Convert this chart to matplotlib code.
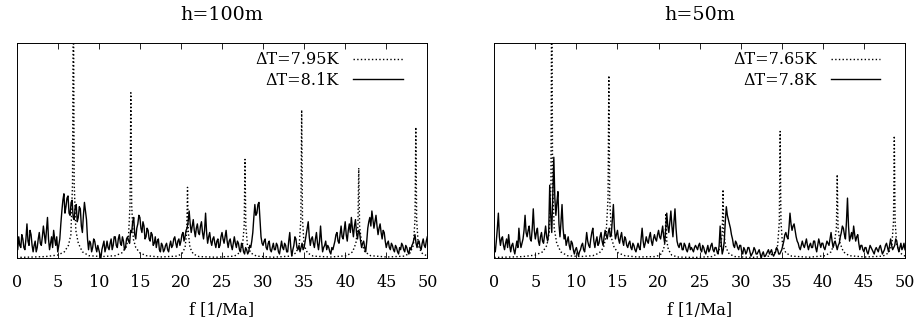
import numpy as np
import matplotlib
matplotlib.use("Agg")
import matplotlib.pyplot as plt

# noisy spectra, one row per 1/Ma, step 0.125 1/Ma
# h=100m, dT=8.1K (solid)
amp_100_solid = [
    0.07, 0.04, 0.10, 0.06, 0.05, 0.11, 0.09, 0.05,
    0.04, 0.09, 0.16, 0.08, 0.06, 0.13, 0.11, 0.06,
    0.03, 0.06, 0.08, 0.03, 0.05, 0.09, 0.12, 0.07,
    0.06, 0.10, 0.15, 0.11, 0.07, 0.13, 0.19, 0.09,
    0.04, 0.07, 0.10, 0.05, 0.13, 0.09, 0.06, 0.10,
    0.03, 0.06, 0.09, 0.16, 0.22, 0.27, 0.30, 0.21,
    0.24, 0.28, 0.29, 0.21, 0.20, 0.26, 0.27, 0.19,
    0.18, 0.24, 0.25, 0.17, 0.19, 0.24, 0.23, 0.15,
    0.12, 0.20, 0.26, 0.22, 0.18, 0.09, 0.04, 0.08,
    0.07, 0.03, 0.05, 0.09, 0.08, 0.05, 0.03, 0.06,
    0.04, 0.02, 0.00, 0.04, 0.06, 0.08, 0.03, 0.05,
    0.08, 0.05, 0.04, 0.07, 0.09, 0.04, 0.06, 0.10,
    0.10, 0.06, 0.05, 0.09, 0.11, 0.07, 0.06, 0.10,
    0.08, 0.04, 0.05, 0.09, 0.10, 0.08, 0.07, 0.13,
    0.12, 0.17, 0.19, 0.11, 0.09, 0.14, 0.16, 0.20,
    0.19, 0.14, 0.12, 0.17, 0.15, 0.09, 0.10, 0.14,
    0.13, 0.09, 0.08, 0.12, 0.11, 0.06, 0.07, 0.10,
    0.05, 0.08, 0.09, 0.04, 0.03, 0.07, 0.06, 0.03,
    0.04, 0.06, 0.07, 0.04, 0.03, 0.06, 0.08, 0.05,
    0.06, 0.09, 0.10, 0.07, 0.05, 0.08, 0.09, 0.06,
    0.08, 0.11, 0.12, 0.08, 0.10, 0.13, 0.14, 0.17,
    0.22, 0.16, 0.12, 0.15, 0.18, 0.13, 0.10, 0.14,
    0.16, 0.12, 0.11, 0.15, 0.17, 0.12, 0.09, 0.13,
    0.21, 0.12, 0.07, 0.10, 0.12, 0.08, 0.06, 0.09,
    0.10, 0.07, 0.05, 0.08, 0.09, 0.05, 0.06, 0.10,
    0.12, 0.09, 0.07, 0.10, 0.13, 0.08, 0.05, 0.08,
    0.09, 0.06, 0.04, 0.07, 0.10, 0.07, 0.05, 0.08,
    0.07, 0.04, 0.03, 0.07, 0.06, 0.03, 0.02, 0.05,
    0.04, 0.02, 0.03, 0.06, 0.05, 0.08, 0.12, 0.19,
    0.25, 0.20, 0.21, 0.25, 0.26, 0.18, 0.10, 0.07,
    0.06, 0.08, 0.09, 0.05, 0.04, 0.07, 0.08, 0.04,
    0.03, 0.05, 0.07, 0.04, 0.04, 0.07, 0.06, 0.03,
    0.02, 0.05, 0.08, 0.05, 0.04, 0.07, 0.06, 0.03,
    0.03, 0.08, 0.12, 0.05, 0.01, 0.04, 0.06, 0.10,
    0.09, 0.05, 0.04, 0.06, 0.03, 0.05, 0.07, 0.04,
    0.05, 0.08, 0.11, 0.14, 0.17, 0.10, 0.06, 0.09,
    0.10, 0.07, 0.05, 0.09, 0.12, 0.07, 0.04, 0.08,
    0.15, 0.08, 0.03, 0.05, 0.06, 0.08, 0.04, 0.06,
    0.05, 0.03, 0.02, 0.05, 0.04, 0.06, 0.08, 0.11,
    0.12, 0.08, 0.07, 0.11, 0.15, 0.10, 0.09, 0.13,
    0.17, 0.11, 0.08, 0.13, 0.16, 0.12, 0.19, 0.14,
    0.10, 0.15, 0.18, 0.12, 0.09, 0.13, 0.12, 0.08,
    0.05, 0.07, 0.08, 0.05, 0.03, 0.08, 0.14, 0.17,
    0.19, 0.15, 0.22, 0.18, 0.14, 0.17, 0.20, 0.15,
    0.11, 0.14, 0.16, 0.12, 0.09, 0.13, 0.12, 0.08,
    0.05, 0.07, 0.08, 0.05, 0.04, 0.07, 0.06, 0.04,
    0.03, 0.06, 0.05, 0.03, 0.02, 0.05, 0.04, 0.07,
    0.06, 0.04, 0.03, 0.06, 0.05, 0.03, 0.02, 0.05,
    0.04, 0.06, 0.07, 0.09, 0.11, 0.07, 0.05, 0.08,
    0.08, 0.05, 0.04, 0.07, 0.09, 0.06, 0.05, 0.08,
    0.10,
]

# h=50m, dT=7.8K (solid)
amp_50_solid = [
    0.05, 0.03, 0.08, 0.14, 0.21, 0.10, 0.06, 0.09,
    0.10, 0.06, 0.04, 0.07, 0.09, 0.05, 0.11, 0.06,
    0.03, 0.06, 0.07, 0.04, 0.02, 0.05, 0.08, 0.05,
    0.14, 0.08, 0.05, 0.07, 0.09, 0.13, 0.20, 0.12,
    0.10, 0.13, 0.15, 0.09, 0.08, 0.14, 0.23, 0.13,
    0.09, 0.12, 0.14, 0.08, 0.06, 0.10, 0.12, 0.08,
    0.07, 0.11, 0.15, 0.10, 0.08, 0.12, 0.34, 0.20,
    0.12, 0.30, 0.47, 0.28, 0.20, 0.26, 0.31, 0.16,
    0.10, 0.17, 0.25, 0.14, 0.09, 0.11, 0.06, 0.08,
    0.10, 0.06, 0.04, 0.08, 0.07, 0.04, 0.02, 0.04,
    0.05, 0.03, 0.01, 0.03, 0.04, 0.06, 0.07, 0.04,
    0.03, 0.07, 0.12, 0.08, 0.06, 0.05, 0.09, 0.12,
    0.14, 0.08, 0.05, 0.08, 0.10, 0.06, 0.07, 0.10,
    0.12, 0.08, 0.06, 0.10, 0.13, 0.11, 0.09, 0.12,
    0.14, 0.10, 0.11, 0.18, 0.25, 0.14, 0.09, 0.11,
    0.13, 0.09, 0.07, 0.10, 0.12, 0.08, 0.06, 0.10,
    0.09, 0.06, 0.05, 0.07, 0.08, 0.05, 0.04, 0.07,
    0.06, 0.04, 0.03, 0.05, 0.07, 0.05, 0.04, 0.09,
    0.14, 0.08, 0.05, 0.07, 0.10, 0.08, 0.07, 0.10,
    0.12, 0.08, 0.06, 0.09, 0.11, 0.09, 0.08, 0.11,
    0.13, 0.10, 0.09, 0.12, 0.15, 0.10, 0.07, 0.14,
    0.21, 0.15, 0.12, 0.17, 0.22, 0.15, 0.10, 0.17,
    0.23, 0.14, 0.08, 0.06, 0.05, 0.07, 0.07, 0.04,
    0.04, 0.07, 0.06, 0.04, 0.03, 0.05, 0.07, 0.04,
    0.05, 0.04, 0.03, 0.05, 0.06, 0.05, 0.04, 0.06,
    0.07, 0.04, 0.03, 0.06, 0.05, 0.03, 0.02, 0.04,
    0.06, 0.03, 0.04, 0.06, 0.07, 0.04, 0.03, 0.05,
    0.05, 0.03, 0.02, 0.06, 0.15, 0.07, 0.02, 0.04,
    0.08, 0.17, 0.24, 0.20, 0.18, 0.16, 0.14, 0.11,
    0.09, 0.06, 0.05, 0.08, 0.07, 0.05, 0.04, 0.06,
    0.06, 0.03, 0.02, 0.05, 0.04, 0.02, 0.03, 0.05,
    0.05, 0.03, 0.01, 0.02, 0.03, 0.05, 0.04, 0.02,
    0.02, 0.03, 0.04, 0.02, 0.00, 0.02, 0.03, 0.01,
    0.01, 0.02, 0.03, 0.04, 0.02, 0.03, 0.04, 0.02,
    0.01, 0.02, 0.03, 0.05, 0.04, 0.02, 0.02, 0.03,
    0.04, 0.06, 0.08, 0.11, 0.12, 0.10, 0.09, 0.14,
    0.21, 0.16, 0.13, 0.15, 0.16, 0.13, 0.10, 0.08,
    0.07, 0.05, 0.04, 0.06, 0.08, 0.06, 0.05, 0.07,
    0.09, 0.06, 0.04, 0.06, 0.07, 0.05, 0.05, 0.08,
    0.08, 0.05, 0.03, 0.06, 0.09, 0.07, 0.05, 0.07,
    0.07, 0.05, 0.04, 0.06, 0.08, 0.07, 0.06, 0.09,
    0.12, 0.08, 0.05, 0.07, 0.08, 0.06, 0.04, 0.06,
    0.07, 0.10, 0.12, 0.15, 0.14, 0.11, 0.09, 0.17,
    0.28, 0.15, 0.08, 0.10, 0.12, 0.09, 0.15, 0.11,
    0.08, 0.10, 0.11, 0.07, 0.04, 0.06, 0.06, 0.04,
    0.03, 0.05, 0.05, 0.03, 0.02, 0.04, 0.06, 0.05,
    0.04, 0.03, 0.02, 0.04, 0.05, 0.04, 0.03, 0.05,
    0.06, 0.04, 0.02, 0.03, 0.04, 0.06, 0.07, 0.05,
    0.03, 0.06, 0.09, 0.06, 0.04, 0.05, 0.06, 0.09,
    0.08, 0.05, 0.03, 0.05, 0.07, 0.04, 0.05, 0.07,
    0.04,
]

# h=100m, dT=7.95K (dotted, periodic state)
freq_100_dot = [
    0.0, 2.0, 3.5, 5.0, 5.8, 6.3, 6.6, 6.8, 6.9, 7.0, 7.2, 7.5, 8.0, 8.8, 10.4,
    12.0, 12.8, 13.3, 13.6, 13.8, 13.9, 14.0, 14.2, 14.5, 15.0, 15.8, 17.4,
    19.5, 20.1, 20.5, 20.7, 20.8, 20.9, 21.1, 21.5, 22.2, 24.3,
    26.5, 27.1, 27.5, 27.7, 27.8, 27.9, 28.1, 28.5, 29.2, 31.2,
    33.3, 34.0, 34.4, 34.6, 34.7, 34.8, 35.0, 35.4, 36.1, 38.2,
    40.2, 40.9, 41.3, 41.55, 41.65, 41.75, 42.0, 42.4, 43.1, 45.1,
    47.2, 47.9, 48.3, 48.5, 48.6, 48.7, 48.9, 49.3, 50.0,
]
amp_100_dot = [
    0.004, 0.006, 0.008, 0.015, 0.03, 0.06, 0.11, 0.35, 1.40, 0.35, 0.13, 0.07, 0.03, 0.012, 0.008,
    0.012, 0.025, 0.05, 0.09, 0.25, 0.77, 0.25, 0.09, 0.05, 0.025, 0.012, 0.006,
    0.01, 0.02, 0.05, 0.12, 0.33, 0.12, 0.05, 0.02, 0.008, 0.005,
    0.01, 0.025, 0.06, 0.15, 0.46, 0.15, 0.06, 0.025, 0.01, 0.005,
    0.01, 0.025, 0.06, 0.18, 0.69, 0.18, 0.06, 0.025, 0.01, 0.006,
    0.012, 0.03, 0.07, 0.15, 0.42, 0.15, 0.07, 0.03, 0.012, 0.006,
    0.01, 0.025, 0.06, 0.18, 0.61, 0.18, 0.06, 0.025, 0.01,
]

# h=50m, dT=7.65K (dotted, periodic state)
freq_50_dot = [
    0.0, 2.0, 3.5, 5.0, 5.9, 6.4, 6.7, 6.9, 7.0, 7.1, 7.3, 7.6, 8.1, 8.9, 10.5,
    12.0, 12.8, 13.3, 13.6, 13.85, 13.95, 14.05, 14.3, 14.6, 15.1, 15.9, 17.4,
    19.6, 20.2, 20.6, 20.8, 20.9, 21.0, 21.2, 21.6, 22.3, 24.4,
    26.5, 27.1, 27.5, 27.75, 27.85, 27.95, 28.2, 28.6, 29.3, 31.3,
    33.4, 34.1, 34.5, 34.7, 34.8, 34.9, 35.1, 35.5, 36.2, 38.3,
    40.3, 41.0, 41.4, 41.65, 41.75, 41.85, 42.1, 42.5, 43.2, 45.2,
    47.3, 48.0, 48.4, 48.6, 48.7, 48.8, 49.0, 49.4, 50.0,
]
amp_50_dot = [
    0.004, 0.006, 0.008, 0.015, 0.03, 0.06, 0.12, 0.35, 1.40, 0.35, 0.14, 0.07, 0.03, 0.012, 0.008,
    0.012, 0.025, 0.05, 0.10, 0.28, 0.85, 0.28, 0.09, 0.05, 0.025, 0.012, 0.006,
    0.008, 0.015, 0.04, 0.08, 0.21, 0.08, 0.04, 0.015, 0.006, 0.004,
    0.008, 0.02, 0.05, 0.11, 0.32, 0.11, 0.05, 0.02, 0.008, 0.004,
    0.01, 0.025, 0.06, 0.17, 0.59, 0.17, 0.06, 0.025, 0.01, 0.005,
    0.012, 0.03, 0.07, 0.14, 0.39, 0.14, 0.07, 0.03, 0.012, 0.006,
    0.01, 0.025, 0.06, 0.17, 0.57, 0.17, 0.06, 0.025, 0.01,
]

titles = ["h=100m", "h=50m"]
labels_dot = ["ΔT=7.95K", "ΔT=7.65K"]
labels_solid = ["ΔT=8.1K", "ΔT=7.8K"]
xticks = [0, 5, 10, 15, 20, 25, 30, 35, 40, 45, 50]

plt.rcParams["font.family"] = ["DejaVu Serif"]
plt.rcParams["font.size"] = 11.5

fig = plt.figure(figsize=(9.17, 3.27), dpi=100)
ax_left = fig.add_axes([0.0182, 0.2101, 0.4478, 0.6575])
ax_right = fig.add_axes([0.5390, 0.2101, 0.4479, 0.6575])

panels = [
    (ax_left, freq_100_dot, amp_100_dot, amp_100_solid),
    (ax_right, freq_50_dot, amp_50_dot, amp_50_solid),
]

for i, (ax, fd, ad, asol) in enumerate(panels):
    fs = np.arange(len(asol)) * 0.125
    ax.plot(fd, ad, color="black", linestyle=":", linewidth=1.0, label=labels_dot[i])
    ax.plot(fs, asol, color="black", linestyle="-", linewidth=1.0, label=labels_solid[i])

    ax.set_xlim(0, 50)
    ax.set_ylim(0, 1)
    ax.set_xticks(xticks)
    ax.set_yticks([])
    ax.tick_params(axis="x", direction="in", top=True, length=4, width=0.6, pad=11)
    for sp in ax.spines.values():
        sp.set_linewidth(0.7)

    ax.set_title(titles[i], pad=17)
    ax.set_xlabel("f [1/Ma]", labelpad=8)

    ax.legend(loc="upper right", bbox_to_anchor=(0.94, 0.962), frameon=False,
              markerfirst=False, handlelength=3.1, handletextpad=0.9,
              labelspacing=0.2, borderpad=0, borderaxespad=0)

fig.savefig("out.png", dpi=100)
